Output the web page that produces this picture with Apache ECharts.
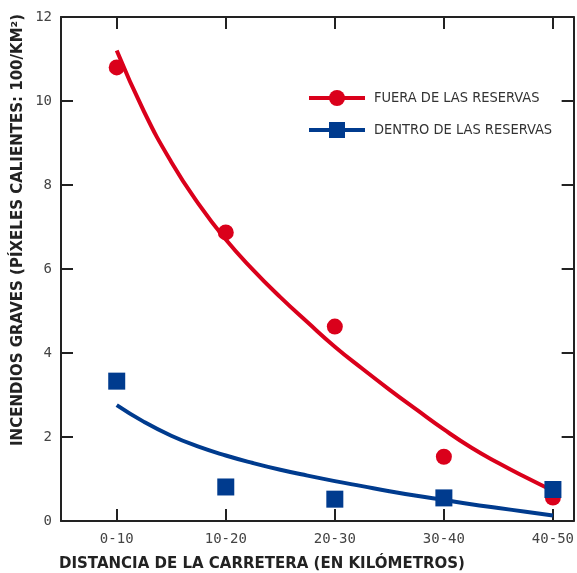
<!DOCTYPE html>
<html><head><meta charset="utf-8">
<script src="https://cdn.jsdelivr.net/npm/echarts@6/dist/echarts.min.js"></script>
<style>html,body{margin:0;padding:0;background:#fff}#c{width:577px;height:573px}</style>
</head><body><div id="c"></div>
<script>
const categories = ['0-10','10-20','20-30','30-40','40-50'];
const fueraValues = [10.8, 6.87, 4.63, 1.53, 0.56];
const dentroValues = [3.33, 0.81, 0.52, 0.55, 0.75];
// fitted trend curves, every quarter category: [category position, value]
const fueraFit = [[0,11.2],[0.25,9.75],[0.5,8.55],[0.75,7.55],[1,6.7],[1.25,5.98],[1.5,5.33],[1.75,4.73],[2,4.15],[2.25,3.63],[2.5,3.13],[2.75,2.65],[3,2.18],[3.25,1.75],[3.5,1.38],[3.75,1.04],[4,0.72]];
const dentroFit = [[0,2.76],[0.25,2.36],[0.5,2.03],[0.75,1.77],[1,1.56],[1.25,1.38],[1.5,1.22],[1.75,1.08],[2,0.95],[2.25,0.83],[2.5,0.71],[2.75,0.6],[3,0.5],[3.25,0.4],[3.5,0.31],[3.75,0.22],[4,0.13]];
const yTicks = [0,2,4,6,8,10,12];
const RED = '#DA001B', BLUE = '#003B8E';
const pos = categories.map((c,i)=>i);

const chart = echarts.init(document.getElementById('c'));
const axisLine = {show:true, onZero:false, lineStyle:{color:'#222', width:2}};
const tick = {show:true, inside:true, length:12, lineStyle:{color:'#222', width:2}, customValues: pos};
const ytick = {show:true, inside:true, length:12, lineStyle:{color:'#222', width:2}, customValues: yTicks};
chart.setOption({
  animation:false,
  grid:{left:61, right:1, top:17, bottom:52},
  legend:{
    orient:'vertical', left:302, top:85, itemWidth:56, itemHeight:20, itemGap:16,
    lineStyle:{width:4},
    textStyle:{fontFamily:'DejaVu Sans Condensed', fontSize:14.5, color:'#333', padding:[0,0,0,4]},
    data:['FUERA DE LAS RESERVAS','DENTRO DE LAS RESERVAS']
  },
  xAxis:[{
    type:'value', min:-0.511, max:4.19, position:'bottom',
    axisLine, axisTick:tick, splitLine:{show:false},
    axisLabel:{customValues:pos, formatter:v=>categories[Math.round(v)], fontFamily:'DejaVu Sans Mono', fontSize:14, color:'#444', margin:11}
  },{
    type:'value', min:-0.511, max:4.19, position:'top',
    axisLine, axisTick:tick, splitLine:{show:false}, axisLabel:{show:false}
  }],
  yAxis:[{
    type:'value', min:0, max:12, position:'left',
    axisLine, axisTick:ytick, splitLine:{show:false},
    axisLabel:{customValues:yTicks, fontFamily:'DejaVu Sans Mono', fontSize:14, color:'#444', margin:9}
  },{
    type:'value', min:0, max:12, position:'right',
    axisLine, axisTick:ytick, splitLine:{show:false}, axisLabel:{show:false}
  }],
  graphic:[
    {type:'text', left:59, top:557, style:{text:'DISTANCIA DE LA CARRETERA (EN KILÓMETROS)', fontFamily:'DejaVu Sans', fontWeight:'bold', fontSize:15, fill:'#222'}},
    {type:'text', x:18, y:230, rotation:Math.PI/2, style:{text:'INCENDIOS GRAVES (PÍXELES CALIENTES: 100/KM²)', fontFamily:'DejaVu Sans', fontWeight:'bold', fontSize:15, fill:'#222', align:'center', verticalAlign:'middle'}}
  ],
  series:[
    {name:'FUERA DE LAS RESERVAS', type:'line', data:fueraFit, smooth:true, symbol:'circle', showSymbol:false,
     lineStyle:{color:RED, width:4}, itemStyle:{color:RED}, z:2},
    {name:'DENTRO DE LAS RESERVAS', type:'line', data:dentroFit, smooth:true, symbol:'rect', showSymbol:false,
     lineStyle:{color:BLUE, width:4}, itemStyle:{color:BLUE}, z:2},
    {name:'FUERA DE LAS RESERVAS', type:'scatter', data:fueraValues.map((v,i)=>[pos[i],v]), symbol:'circle', symbolSize:16, itemStyle:{color:RED, opacity:1}, z:3},
    {name:'DENTRO DE LAS RESERVAS', type:'scatter', data:dentroValues.map((v,i)=>[pos[i],v]), symbol:'rect', symbolSize:17, itemStyle:{color:BLUE, opacity:1}, z:4}
  ]
});
</script></body></html>
